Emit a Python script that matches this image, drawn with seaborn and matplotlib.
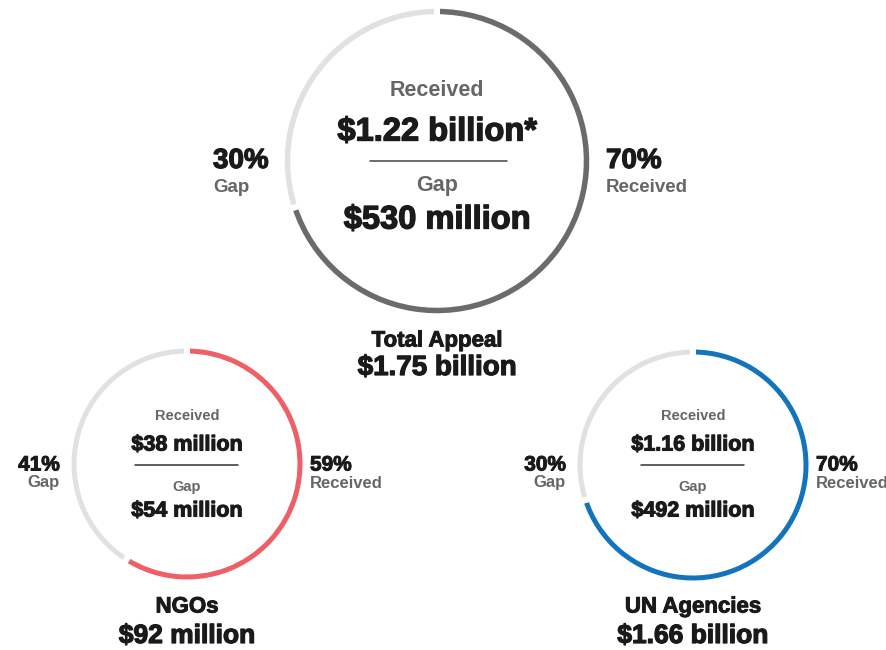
import matplotlib
matplotlib.use("Agg")
import matplotlib.pyplot as plt
import matplotlib.patheffects as pe
import seaborn as sns

# ---- data ----
groups = ["Total Appeal", "NGOs", "UN Agencies"]
totals = ["$1.75 billion", "$92 million", "$1.66 billion"]
received_pct = [70, 59, 70]
gap_pct = [30, 41, 30]
received_amt = ["$1.22 billion*", "$38 million", "$1.16 billion"]
gap_amt = ["$530 million", "$54 million", "$492 million"]
ring_colors = ["#6b6b6d", "#ee5f68", "#1374bb"]
gap_color = "#e0e1e2"

sns.set_theme(style="white")
plt.rcParams["font.family"] = ["Liberation Sans", "DejaVu Sans"]

W, H = 887, 650
fig = plt.figure(figsize=(W / 100, H / 100), dpi=100)
ax = fig.add_axes([0, 0, 1, 1])

def Y(py):
    return H - py - 2

PX = 0.72  # points per pixel at dpi 100
edge_px = 6

layout = [
    dict(cx=437, cy=159, r=149.5, w=5.5),
    dict(cx=187, cy=462, r=113, w=5.0),
    dict(cx=693, cy=463, r=113, w=5.0),
]

for i, L in enumerate(layout):
    outer = L["r"] + L["w"] / 2 + edge_px / 2
    ax.pie([received_pct[i], gap_pct[i]],
           colors=[ring_colors[i], gap_color],
           startangle=90, counterclock=False,
           center=(L["cx"], Y(L["cy"])), radius=outer,
           wedgeprops=dict(width=L["w"] + edge_px, edgecolor="white",
                           linewidth=edge_px * PX),
           frame=True)

dark = "#1a1a1a"
grey = "#666666"

def heavy(lw=0.9):
    return [pe.withStroke(linewidth=lw, foreground=dark)]

def T(x, py, s, size, color, ha="center", stroke=None):
    t = ax.text(x, Y(py), s, ha=ha, va="center", fontsize=size,
                fontweight="bold", color=color)
    if stroke:
        t.set_path_effects(heavy(stroke))
    return t

# ---- top ring texts ----
cx = 437
T(cx, 88, "Received", 15.5, grey)
T(cx, 130, received_amt[0], 23.5, dark, stroke=1.0)
ax.plot([370, 507], [Y(159), Y(159)], color="#444444", lw=1.1)
T(cx, 183, "Gap", 15.5, grey)
T(cx, 218, gap_amt[0], 23.5, dark, stroke=1.0)
T(213, 159, f"{gap_pct[0]}%", 20, dark, ha="left", stroke=0.9)
T(213, 185, "Gap", 13.5, grey, ha="left")
T(606, 159, f"{received_pct[0]}%", 20, dark, ha="left", stroke=0.9)
T(606, 185, "Received", 13.5, grey, ha="left")
T(cx, 339, groups[0], 16, dark, stroke=0.7)
T(cx, 366, totals[0], 20, dark, stroke=0.9)

# ---- small rings ----
for i in (1, 2):
    L = layout[i]
    cx = L["cx"]
    T(cx, 414, "Received", 10.5, grey)
    T(cx, 443, received_amt[i], 15.5, dark, stroke=0.8)
    ax.plot([cx - 52, cx + 51], [Y(463), Y(463)], color="#333333", lw=1.1)
    T(cx, 485, "Gap", 10.5, grey)
    T(cx, 509, gap_amt[i], 15.5, dark, stroke=0.8)
    T(cx - 127, 463, f"{gap_pct[i]}%", 15, dark, ha="right", stroke=0.7)
    T(cx - 127, 481, "Gap", 12, grey, ha="right")
    T(cx + 123, 463, f"{received_pct[i]}%", 15, dark, ha="left", stroke=0.7)
    T(cx + 123, 481, "Received", 12, grey, ha="left")
    T(cx, 605, groups[i], 16, dark, stroke=0.7)
    T(cx, 634, totals[i], 19, dark, stroke=0.9)

ax.set_xlim(0, W)
ax.set_ylim(0, H)
ax.set_aspect("auto")
ax.axis("off")
fig.savefig("out.png", dpi=100, facecolor="white")
